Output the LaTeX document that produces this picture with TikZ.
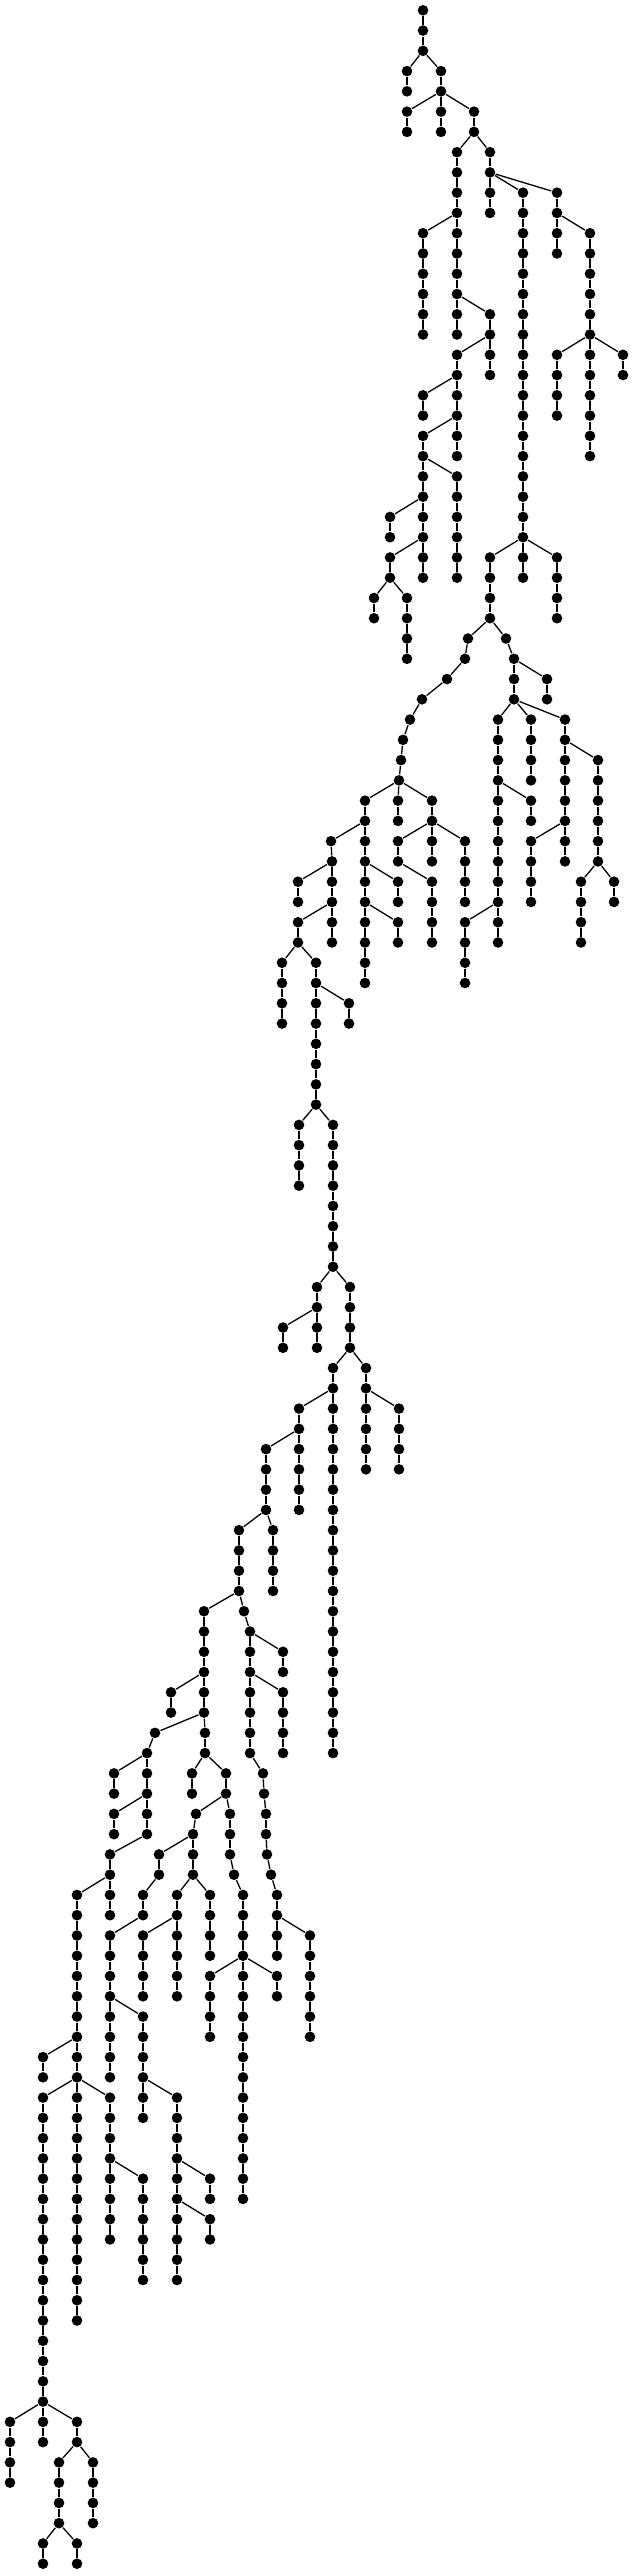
\documentclass[tikz,border=0pt]{standalone}
\begin{document}
\tikzset{knot/.style={circle,fill=black,inner sep=0pt,minimum size=10.6pt}}
\begin{tikzpicture}[line width=1.3pt]
  \useasboundingbox (0pt,0pt) rectangle (634pt,-2574pt);
  \begin{scope}[x=1pt,y=-20.265pt,yshift=-10.3pt]
   \node[knot] (v0-423) at (423,0) {};
   \foreach \l/\x/\q in {
     1/423/423, 2/423/423, 3/407/423, 3/441/423, 4/407/407, 4/441/441,
     5/407/441, 5/441/441, 5/474/441, 6/407/407, 6/441/441, 6/474/474,
     7/457/474, 7/490/474, 8/457/457, 8/490/490,
     9/457/457, 9/490/490, 9/523/490, 9/557/490,
     10/457/457, 10/490/490, 10/523/523, 10/557/557,
     11/423/457, 11/457/457, 11/523/523, 11/557/557, 11/590/557,
     12/423/423, 12/457/457, 12/523/523, 12/557/557, 12/590/590,
     13/423/423, 13/457/457, 13/523/523, 13/590/590,
     14/423/423, 14/457/457, 14/523/523, 14/590/590,
     15/423/423, 15/457/457, 15/490/457, 15/523/523, 15/590/590,
     16/423/423, 16/457/457, 16/490/490, 16/523/523, 16/590/590,
     17/457/490, 17/490/490, 17/523/523, 17/557/590, 17/590/590, 17/623/590,
     18/457/457, 18/490/490, 18/523/523, 18/557/557, 18/590/590, 18/623/623,
     19/423/457, 19/457/457, 19/523/523, 19/557/557, 19/590/590,
     20/423/423, 20/457/457, 20/523/523, 20/557/557, 20/590/590,
     21/423/457, 21/457/457, 21/523/523, 21/590/590,
     22/423/423, 22/457/457, 22/523/523, 22/590/590,
     23/423/423, 23/457/423, 23/523/523,
     24/423/423, 24/457/457, 24/523/523,
     25/390/423, 25/423/423, 25/457/457, 25/523/523,
     26/390/390, 26/423/423, 26/457/457, 26/523/523,
     27/390/423, 27/423/423, 27/457/457, 27/490/523, 27/523/523, 27/557/523,
     28/390/390, 28/423/423, 28/457/457, 28/490/490, 28/523/523, 28/557/557,
     29/374/390, 29/407/390, 29/490/490, 29/557/557,
     30/374/374, 30/407/407, 30/490/490, 30/557/557,
     31/407/407, 31/468/490, 31/506/490,
     32/407/407, 32/465/468, 32/514/506,
     33/447/465, 33/514/514, 33/547/514,
     34/422/447, 34/514/514, 34/547/547,
     35/410/422, 35/498/514, 35/531/514, 35/565/514,
     36/403/410, 36/498/498, 36/531/531, 36/565/565,
     37/401/403, 37/498/498, 37/531/531, 37/565/565, 37/598/565,
     38/399/401, 38/498/498, 38/531/531, 38/565/565, 38/598/598,
     39/365/399, 39/398/399, 39/432/399, 39/498/498, 39/531/498, 39/565/565, 39/598/598,
     40/365/365, 40/398/398, 40/432/432, 40/498/498, 40/531/531, 40/565/565, 40/598/598,
     41/331/365, 41/365/365, 41/398/432, 41/432/432, 41/465/432, 41/498/498, 41/531/565, 41/565/565, 41/598/598,
     42/332/331, 42/365/365, 42/398/398, 42/432/432, 42/465/465, 42/498/498, 42/531/531, 42/565/565, 42/598/598,
     43/298/332, 43/332/332, 43/365/365, 43/398/365, 43/432/398, 43/465/465, 43/498/498, 43/531/531, 43/581/598, 43/614/598,
     44/298/298, 44/332/332, 44/365/365, 44/398/398, 44/432/432, 44/465/465, 44/498/498, 44/531/531, 44/581/581, 44/614/614,
     45/298/332, 45/332/332, 45/365/365, 45/398/365, 45/432/432, 45/465/498, 45/498/498, 45/581/581,
     46/298/298, 46/332/332, 46/365/365, 46/398/398, 46/432/432, 46/465/465, 46/498/498, 46/581/581,
     47/282/298, 47/316/298, 47/365/365, 47/465/465,
     48/282/282, 48/316/316, 48/365/365, 48/465/465,
     49/282/282, 49/316/316, 49/349/316,
     50/282/282, 50/316/316, 50/349/349,
     51/316/316, 52/316/316, 53/316/316, 54/316/316,
     55/299/316, 55/333/316, 56/299/299, 56/333/333,
     57/299/299, 57/333/333, 58/299/299, 58/333/333,
     59/333/333, 60/333/333, 61/333/333, 62/333/333,
     63/317/333, 63/350/333, 64/317/317, 64/350/350,
     65/283/317, 65/317/317, 65/350/350,
     66/283/283, 66/317/317, 66/350/350,
     67/333/350, 67/366/350, 68/333/333, 68/366/366,
     69/299/333, 69/333/333, 69/366/366, 69/399/366,
     70/299/299, 70/333/333, 70/366/366, 70/399/399,
     71/266/299, 71/299/299, 71/333/333, 71/366/366, 71/399/399,
     72/266/266, 72/299/299, 72/333/333, 72/366/366, 72/399/399,
     73/266/266, 73/299/299, 73/333/333,
     74/266/266, 74/299/299, 74/333/333,
     75/239/266, 75/273/266, 75/333/333,
     76/239/239, 76/273/273, 76/333/333,
     77/239/239, 77/273/273, 77/333/333,
     78/239/239, 78/273/273, 78/333/333,
     79/204/239, 79/244/239, 79/333/333,
     80/204/204, 80/250/244, 80/333/333,
     81/204/204, 81/250/250, 81/283/250, 81/333/333,
     82/204/204, 82/250/250, 82/283/283, 82/333/333,
     83/171/204, 83/204/204, 83/250/250, 83/283/250, 83/333/333,
     84/171/171, 84/204/204, 84/250/250, 84/283/283, 84/333/333,
     85/155/204, 85/205/204, 85/250/250, 85/283/283, 85/333/333,
     86/147/155, 86/205/205, 86/250/250, 86/283/283, 86/333/333,
     87/114/147, 87/147/147, 87/192/205, 87/226/205, 87/263/250,
     88/114/114, 88/147/147, 88/192/192, 88/226/226, 88/264/263,
     89/114/147, 89/147/147, 89/196/226, 89/230/226, 89/266/264,
     90/114/114, 90/147/147, 90/193/196, 90/230/230, 90/266/266,
     91/110/147, 91/159/193, 91/193/193, 91/230/230, 91/267/266,
     92/110/110, 92/159/159, 92/193/193, 92/234/230, 92/271/267,
     93/77/110, 93/110/110, 93/143/159, 93/177/193, 93/210/193, 93/243/234, 93/277/271,
     94/77/77, 94/110/110, 94/143/143, 94/177/177, 94/210/210, 94/243/243, 94/277/277,
     95/77/77, 95/110/143, 95/143/177, 95/177/177, 95/210/210, 95/243/243, 95/277/277, 95/310/277,
     96/77/77, 96/110/110, 96/143/143, 96/177/177, 96/210/210, 96/243/243, 96/277/277, 96/310/310,
     97/77/77, 97/110/110, 97/143/143, 97/177/177, 97/210/243, 97/243/243, 97/277/243, 97/310/310,
     98/77/77, 98/110/110, 98/143/143, 98/177/177, 98/210/210, 98/243/243, 98/277/277, 98/310/310,
     99/77/77, 99/110/110, 99/143/110, 99/210/210, 99/243/243, 99/310/310,
     100/77/77, 100/110/110, 100/143/143, 100/210/210, 100/243/243, 100/310/310,
     101/43/77, 101/77/77, 101/110/110, 101/143/143, 101/243/243,
     102/43/43, 102/77/77, 102/110/110, 102/143/143, 102/243/243,
     103/43/77, 103/77/77, 103/110/77, 103/143/143, 103/177/143, 103/243/243,
     104/43/43, 104/77/77, 104/110/110, 104/143/143, 104/177/177, 104/243/243,
     105/43/43, 105/77/77, 105/110/110, 105/177/177, 105/243/243,
     106/43/43, 106/77/77, 106/110/110, 106/177/177, 106/243/243,
     107/43/43, 107/77/77, 107/110/110, 107/143/110, 107/177/177, 107/210/177, 107/243/243,
     108/43/43, 108/77/77, 108/110/110, 108/143/143, 108/177/177, 108/210/210, 108/243/243,
     109/43/43, 109/77/77, 109/110/110, 109/143/143, 109/177/177, 109/210/177,
     110/43/43, 110/77/77, 110/110/110, 110/143/143, 110/177/177, 110/210/210,
     111/43/43, 111/77/77, 111/143/143, 111/177/177,
     112/43/43, 112/77/77, 112/143/143, 112/177/177,
     113/43/43, 113/77/77, 114/43/43, 114/77/77,
     115/43/43, 116/43/43, 117/43/43, 118/43/43,
     119/10/43, 119/43/43, 119/77/43,
     120/10/10, 120/43/43, 120/77/77,
     121/10/10, 121/59/77, 121/93/77,
     122/10/10, 122/59/59, 122/93/93,
     123/59/59, 123/93/93, 124/59/59, 124/93/93,
     125/43/59, 125/77/59, 126/43/43, 126/77/77}{
     \pgfmathtruncatemacro{\pl}{\l-1}
     \node[knot] (v\l-\x) at (\x,\l) {};
     \draw (v\pl-\q) -- (v\l-\x);
   }
  \end{scope}
\end{tikzpicture}
\end{document}
